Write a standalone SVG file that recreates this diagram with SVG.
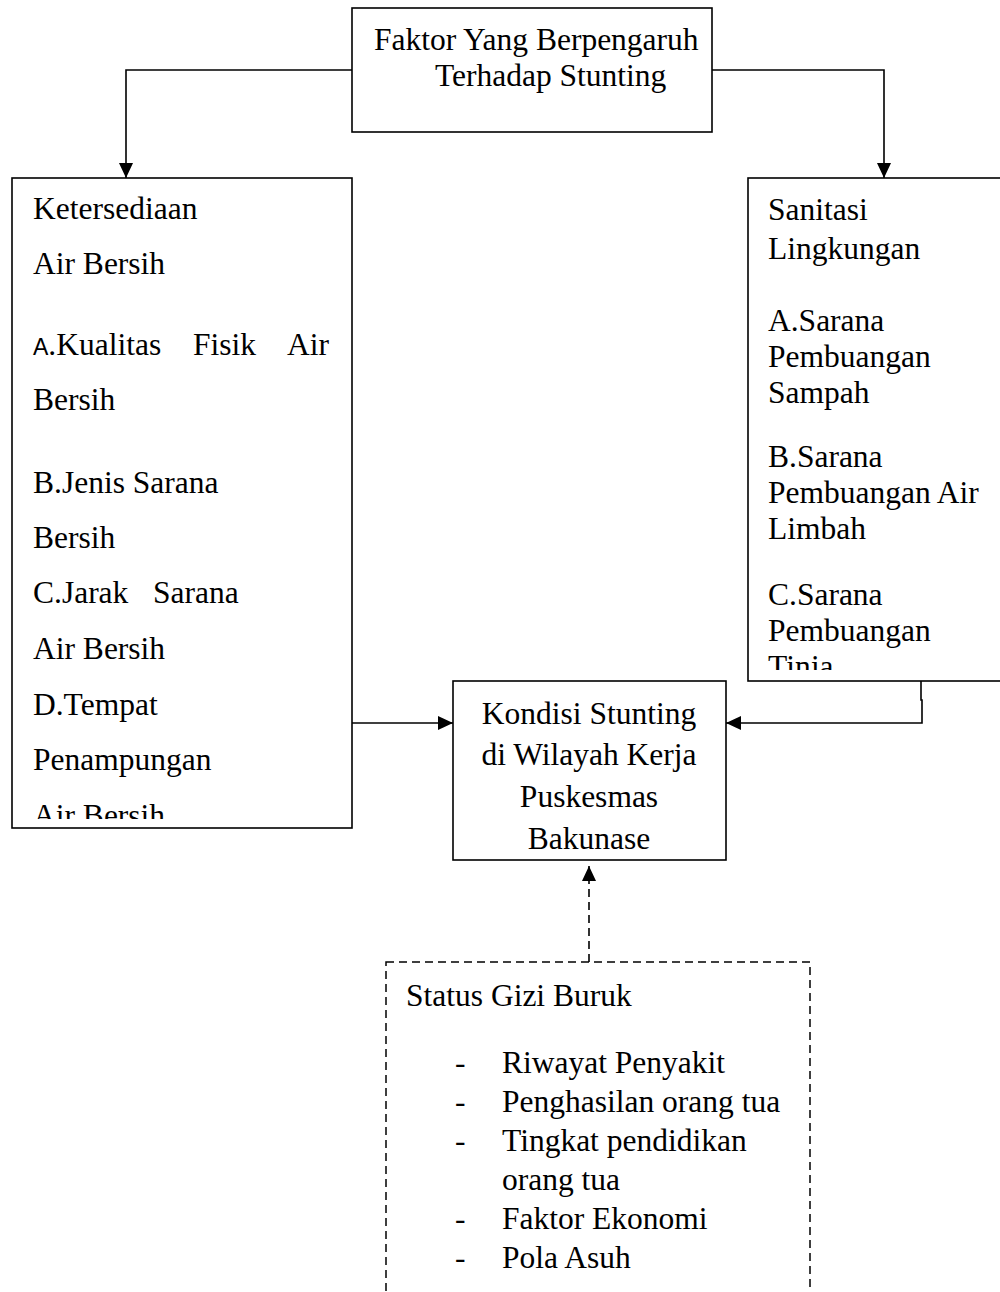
<svg xmlns="http://www.w3.org/2000/svg" width="1000" height="1292" viewBox="0 0 1000 1292">
  <style>
    .box { fill: #ffffff; stroke: #000000; stroke-width: 1.6; }
    .dbox { fill: none; stroke: #000000; stroke-width: 1.5; stroke-dasharray: 8 5; }
    .t { font-family: "Liberation Serif", "Times New Roman", serif; font-size: 31.5px; fill: #000000; }
    .c { text-anchor: middle; }
    .edge { fill: none; stroke: #000000; stroke-width: 1.6; }
    .dedge { fill: none; stroke: #000000; stroke-width: 1.6; stroke-dasharray: 8 5; }
  </style>
  <defs>
    <marker id="arr" markerUnits="userSpaceOnUse" markerWidth="16" markerHeight="14" refX="15" refY="7" orient="auto">
      <path d="M0,0 L15,7 L0,14 Z" fill="#000000"/>
    </marker>
    <clipPath id="clipL"><rect x="12" y="178" width="340" height="641"/></clipPath>
    <clipPath id="clipR"><rect x="748" y="178" width="260" height="492"/></clipPath>
  </defs>
  <rect width="1000" height="1292" fill="#ffffff"/>

  <g id="connectors">
    <path class="edge" d="M352,70 L126,70 L126,178" marker-end="url(#arr)"/>
    <path class="edge" d="M712,70 L884,70 L884,178" marker-end="url(#arr)"/>
    <path class="edge" d="M352,723 L453,723" marker-end="url(#arr)"/>
    <path class="edge" d="M921,681 L921,700 L922,700 L922,723 L726,723" marker-end="url(#arr)"/>
    <path class="dedge" d="M589,962 L589,866" marker-end="url(#arr)"/>
  </g>

  <g id="node-faktor">
    <rect class="box" x="352" y="8" width="360" height="124"/>
    <text class="t" x="374" y="50">Faktor Yang Berpengaruh</text>
    <text class="t" x="435" y="86">Terhadap Stunting</text>
  </g>

  <g id="node-air-bersih">
    <rect class="box" x="12" y="178" width="340" height="650"/>
    <g clip-path="url(#clipL)">
      <text class="t" x="33" y="219">Ketersediaan</text>
      <text class="t" x="33" y="274">Air Bersih</text>
      <text class="t" y="355"><tspan x="33" style="font-family:'Liberation Sans',Arial,sans-serif;font-size:23px">A</tspan><tspan>.Kualitas</tspan><tspan x="193">Fisik</tspan><tspan x="287">Air</tspan></text>
      <text class="t" x="33" y="410">Bersih</text>
      <text class="t" x="33" y="493">B.Jenis Sarana</text>
      <text class="t" x="33" y="548">Bersih</text>
      <text class="t" y="603"><tspan x="33">C.Jarak</tspan><tspan x="153">Sarana</tspan></text>
      <text class="t" x="33" y="659">Air Bersih</text>
      <text class="t" x="33" y="715">D.Tempat</text>
      <text class="t" x="33" y="770">Penampungan</text>
      <text class="t" x="33" y="826">Air Bersih</text>
    </g>
  </g>

  <g id="node-sanitasi">
    <rect class="box" x="748" y="178" width="262" height="503"/>
    <g clip-path="url(#clipR)">
      <text class="t" x="768" y="220">Sanitasi</text>
      <text class="t" x="768" y="259">Lingkungan</text>
      <text class="t" x="768" y="331">A.Sarana</text>
      <text class="t" x="768" y="367">Pembuangan</text>
      <text class="t" x="768" y="403">Sampah</text>
      <text class="t" x="768" y="467">B.Sarana</text>
      <text class="t" x="768" y="503">Pembuangan Air</text>
      <text class="t" x="768" y="539">Limbah</text>
      <text class="t" x="768" y="605">C.Sarana</text>
      <text class="t" x="768" y="641">Pembuangan</text>
      <text class="t" x="768" y="677">Tinja</text>
    </g>
  </g>

  <g id="node-kondisi">
    <rect class="box" x="453" y="681" width="273" height="179"/>
    <text class="t c" x="589" y="724">Kondisi Stunting</text>
    <text class="t c" x="589" y="765">di Wilayah Kerja</text>
    <text class="t c" x="589" y="807">Puskesmas</text>
    <text class="t c" x="589" y="849">Bakunase</text>
  </g>

  <g id="node-gizi">
    <rect class="dbox" x="386" y="962" width="424" height="345"/>
    <text class="t" x="406" y="1006">Status Gizi Buruk</text>
    <text class="t" x="455" y="1073">-</text>
    <text class="t" x="502" y="1073">Riwayat Penyakit</text>
    <text class="t" x="455" y="1112">-</text>
    <text class="t" x="502" y="1112">Penghasilan orang tua</text>
    <text class="t" x="455" y="1151">-</text>
    <text class="t" x="502" y="1151">Tingkat pendidikan</text>
    <text class="t" x="502" y="1190">orang tua</text>
    <text class="t" x="455" y="1229">-</text>
    <text class="t" x="502" y="1229">Faktor Ekonomi</text>
    <text class="t" x="455" y="1268">-</text>
    <text class="t" x="502" y="1268">Pola Asuh</text>
  </g>
</svg>
